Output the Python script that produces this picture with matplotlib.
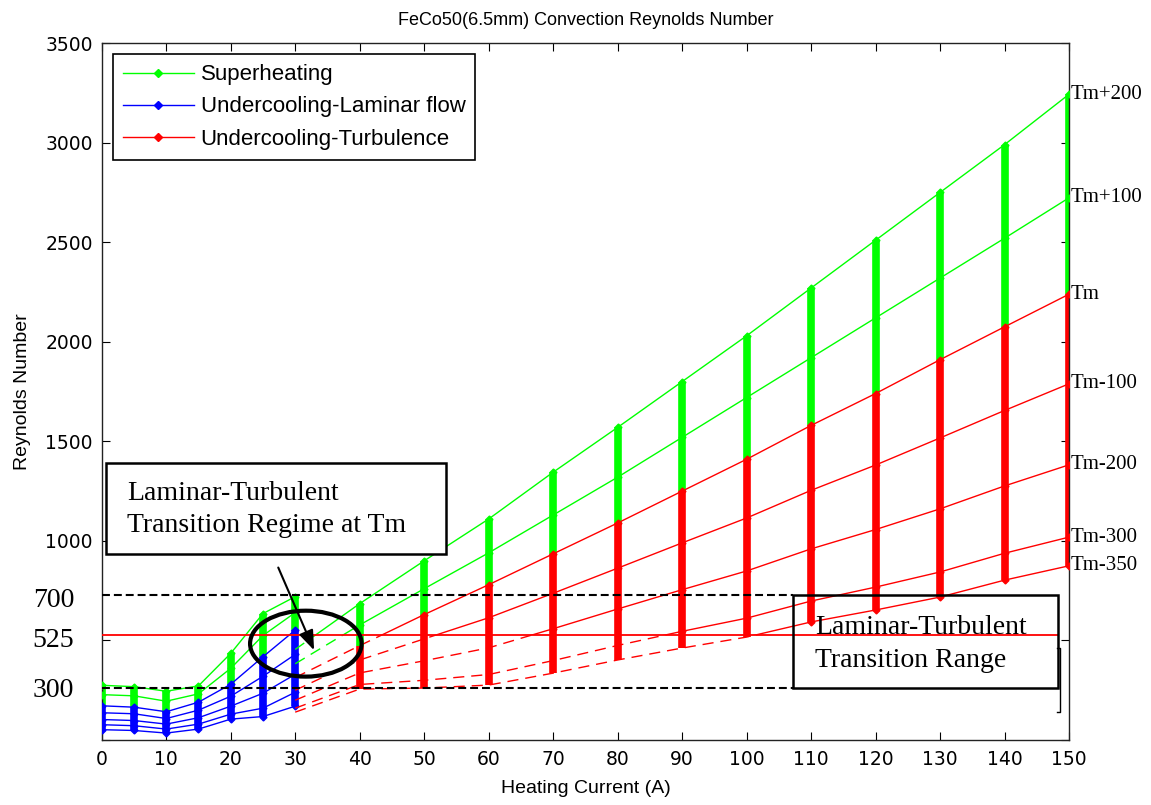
import matplotlib
matplotlib.use('Agg')
import matplotlib.pyplot as plt
from matplotlib.patches import Ellipse, Rectangle
from matplotlib.lines import Line2D

# level names (labels at the right edge)
levels = ['Tm+200', 'Tm+100', 'Tm', 'Tm-100', 'Tm-200', 'Tm-300', 'Tm-350']

# laminar-flow calculation, heating current 0..30 A
lam_current = [0, 5, 10, 15, 20, 25, 30]
lam_tp200 = [275, 268, 245, 272, 435, 635, 720]
lam_tp100 = [228, 222, 195, 232, 360, 525, 640]
lam_tm = [172, 165, 142, 190, 280, 418, 552]
lam_tm100 = [137, 132, 108, 150, 220, 320, 430]
lam_tm200 = [103, 98, 80, 112, 170, 235, 330]
lam_tm300 = [77, 72, 55, 80, 130, 160, 240]
lam_tm350 = [52, 48, 35, 55, 105, 118, 170]

# turbulence calculation, heating current 30..150 A
turb_current = [30, 40, 50, 60, 70, 80, 90, 100, 110, 120, 130, 140, 150]
turb_tp200 = [455, 685, 900, 1110, 1345, 1570, 1800, 2030, 2270, 2510, 2750, 2990, 3243]
turb_tp100 = [383, 578, 760, 940, 1130, 1320, 1520, 1720, 1920, 2120, 2320, 2520, 2723]
turb_tm = [314, 474, 630, 780, 935, 1090, 1250, 1410, 1580, 1740, 1910, 2075, 2239]
turb_tm100 = [250, 402, 508, 614, 737, 863, 990, 1115, 1254, 1381, 1517, 1655, 1789]
turb_tm200 = [200, 337, 398, 463, 559, 658, 755, 849, 960, 1057, 1161, 1276, 1382]
turb_tm300 = [160, 279, 300, 329, 399, 475, 546, 612, 698, 768, 844, 938, 1019]
turb_tm350 = [140, 256, 261, 276, 336, 402, 462, 517, 593, 653, 718, 803, 875]

# transition limits drawn on the chart
re_low, re_mid, re_high = 259, 525, 730

lam_lines = [lam_tp200, lam_tp100, lam_tm, lam_tm100, lam_tm200, lam_tm300, lam_tm350]
turb_lines = [turb_tp200, turb_tp100, turb_tm, turb_tm100, turb_tm200, turb_tm300, turb_tm350]
lam_colors = ['#00ff00', '#00ff00', 'b', 'b', 'b', 'b', 'b']
turb_colors = ['#00ff00', '#00ff00', 'r', 'r', 'r', 'r', 'r']

plt.rcParams['font.family'] = ['Liberation Sans', 'DejaVu Sans']
serif = ['Liberation Serif', 'DejaVu Serif']

fig = plt.figure(figsize=(11.51, 8.05), dpi=100)
ax = fig.add_axes([0.0884, 0.0807, 0.8404, 0.8658])

# vertical marker columns at each current
colw = 5.5
ax.vlines(lam_current, lam_tm, lam_tp200, color='#00ff00', lw=colw, zorder=2)
ax.vlines(lam_current, lam_tm350, lam_tm, color='b', lw=colw, zorder=2)
ax.vlines(turb_current[1:], turb_tm[1:], turb_tp200[1:], color='#00ff00', lw=colw, zorder=2)
ax.vlines(turb_current[1:], turb_tm350[1:], turb_tm[1:], color='r', lw=colw, zorder=2)

# laminar lines, solid
for vals, col in zip(lam_lines, lam_colors):
    ax.plot(lam_current, vals, color=col, lw=1, marker='D', ms=3.5, zorder=3)

# turbulence lines: solid above 525, dashed below it
upper = Rectangle((0, re_mid), 150, 3500, transform=ax.transData)
lower = Rectangle((0, 0), 150, re_mid, transform=ax.transData)
for vals, col in zip(turb_lines, turb_colors):
    l1, = ax.plot(turb_current, vals, color=col, lw=1, marker='D', ms=3.5, zorder=3)
    l1.set_clip_path(upper)
    l2, = ax.plot(turb_current, vals, color=col, lw=1, ls=(0, (8, 5)), zorder=3)
    l2.set_clip_path(lower)

# level labels on the right
for name, vals in zip(levels, turb_lines):
    ax.text(150.3, vals[-1], name, family=serif, fontsize=15, va='center', ha='left',
            clip_on=False)

# transition range lines and labels
ax.plot([0, 107.2], [re_high, re_high], color='k', lw=1.5, ls=(0, (3.8, 1.9)), zorder=6)
ax.plot([0, 107.2], [re_low, re_low], color='k', lw=1.5, ls=(0, (3.8, 1.9)), zorder=6)
ax.plot([0, 148.3], [re_mid, re_mid], color='r', lw=1.3, zorder=6)
ax.text(-4.3, 669, '700', family=serif, fontsize=20, ha='right', va='baseline', clip_on=False)
ax.text(-4.3, 467, '525', family=serif, fontsize=20, ha='right', va='baseline', clip_on=False)
ax.text(-4.3, 216, '300', family=serif, fontsize=20, ha='right', va='baseline', clip_on=False)

# annotation: transition regime at Tm
ax.add_patch(Rectangle((0.67, 934), 52.7, 457, fc='white', ec='k', lw=1.8, zorder=7))
ax.text(3.9, 1205, 'Laminar-Turbulent', family=serif, fontsize=20, va='baseline', zorder=8)
ax.text(3.9, 1046, 'Transition Regime at Tm', family=serif, fontsize=20, va='baseline', zorder=8)
ax.add_patch(Ellipse((31.65, 484), 17.3, 331, fill=False, ec='k', lw=3, zorder=8))
ax.annotate('', xy=(33.1, 438), xytext=(27.2, 879),
            arrowprops=dict(arrowstyle='-|>,head_length=0.8,head_width=0.3',
                            color='k', lw=1.5, mutation_scale=15), zorder=8)

# annotation: transition range
ax.add_patch(Rectangle((107.2, re_low), 41.1, re_high - re_low, fill=False, ec='k',
                       lw=1.8, zorder=7))
ax.text(110.6, 532, 'Laminar-Turbulent', family=serif, fontsize=20, va='baseline', zorder=8)
ax.text(110.6, 367, 'Transition Range', family=serif, fontsize=20, va='baseline', zorder=8)
ax.plot([148.2, 148.6, 148.6, 148.2], [462, 462, 141, 141], color='k', lw=1, zorder=8,
        clip_on=False)

ax.set_xlim(0, 150)
ax.set_ylim(0, 3500)
ax.set_xticks(range(0, 151, 10))
ax.set_yticks(range(0, 3501, 500))
ax.set_yticklabels(['', '', '1000', '1500', '2000', '2500', '3000', '3500'])
ax.tick_params(direction='in', length=6, top=True, right=True, labelsize=13.5)
ax.tick_params(axis='x', pad=7)
ax.tick_params(axis='y', pad=6.5)
for lab in ax.get_xticklabels() + ax.get_yticklabels():
    lab.set_family('DejaVu Sans')
for s in ax.spines.values():
    s.set_linewidth(1)
    s.set_color('#222222')

ax.set_title('FeCo50(6.5mm) Convection Reynolds Number', fontsize=13, pad=13)
ax.set_xlabel('Heating Current (A)', fontsize=14)
ax.set_ylabel('Reynolds Number', fontsize=14)
ax.xaxis.set_label_coords(0.5, -0.058)
ax.yaxis.set_label_coords(-0.073, 0.5)

handles = [
    Line2D([], [], color='#00ff00', lw=1, marker='D', ms=4),
    Line2D([], [], color='b', lw=1, marker='D', ms=4),
    Line2D([], [], color='r', lw=1, marker='D', ms=4),
]
leg = ax.legend(handles, ['Superheating', 'Undercooling-Laminar flow', 'Undercooling-Turbulence'],
                loc='upper left', bbox_to_anchor=(0.0114, 0.9838), borderaxespad=0,
                fontsize=16, handlelength=3.2, handletextpad=0.3, labelspacing=0.5,
                fancybox=False, edgecolor='k', framealpha=1, borderpad=0.45)
leg.get_frame().set_linewidth(1.2)
leg.set_zorder(9)

fig.savefig('out.png', dpi=100)
